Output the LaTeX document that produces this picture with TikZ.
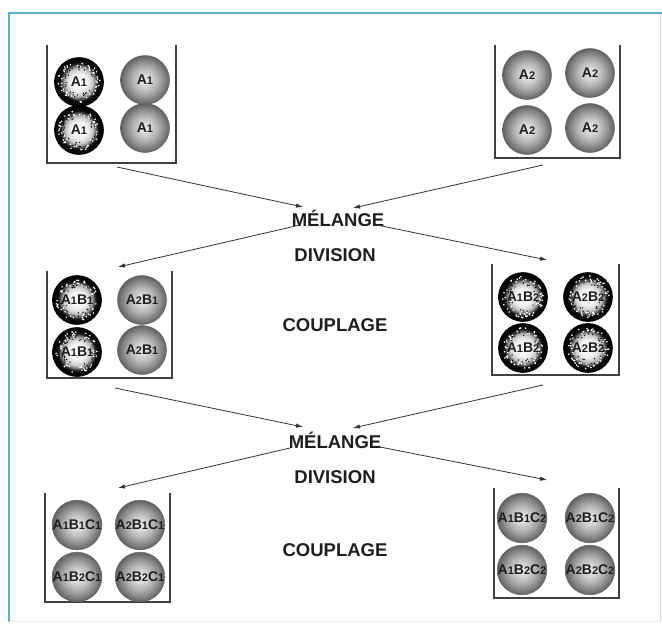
\documentclass[tikz,border=0pt]{standalone}
\usepackage{fontspec}
\setmainfont{Liberation Sans}
\usetikzlibrary{arrows.meta}

% shadings for the two kinds of beads (bead rim at 25bp)
\pgfdeclareradialshading{greybead}{\pgfpoint{0bp}{0bp}}{%
  color(0bp)=(black!8); color(6bp)=(black!16); color(13bp)=(black!30);
  color(20bp)=(black!48); color(25bp)=(black!62); color(50bp)=(black!62)}
\pgfdeclareradialshading{darkbead}{\pgfpoint{0bp}{0bp}}{%
  color(0bp)=(white); color(9bp)=(black!6); color(14bp)=(black!22);
  color(17bp)=(black!60); color(19.5bp)=(black!95); color(25bp)=(black);
  color(50bp)=(black)}

\definecolor{framecol}{RGB}{88,176,214}
\definecolor{inkcol}{RGB}{30,30,30}

% smaller index digits
\newcommand{\idx}[1]{{\fontsize{11}{11}\selectfont #1}}

\tikzset{
  bead/.style={circle, minimum size=49pt, inner sep=0pt, text=inkcol,
    font=\fontsize{14}{14}\selectfont\bfseries},
  greyball/.style={bead, shading=greybead, draw=black!60, line width=0.5pt},
  darkball/.style={bead, shading=darkbead, draw=black, line width=0.6pt,
    path picture={
      \foreach \k in {1,...,55}{
        \pgfmathsetmacro{\ang}{rnd*360}
        \pgfmathsetmacro{\rad}{15+6*rnd}
        \fill[white] (path picture bounding box.center) ++(\ang:\rad) circle (0.9pt);
      }
      \foreach \k in {1,...,30}{
        \pgfmathsetmacro{\ang}{rnd*360}
        \pgfmathsetmacro{\rad}{12+5*rnd}
        \fill[black] (path picture bounding box.center) ++(\ang:\rad) circle (0.7pt);
      }
    }},
  tray/.style={draw=black!75, line width=1.1pt, line join=miter},
  flow/.style={draw=black!80, line width=0.8pt,
    -{Latex[length=7pt, width=4.5pt]}},
  step label/.style={font=\fontsize{18.5}{18.5}\selectfont\bfseries, text=inkcol,
    inner sep=1pt}
}

\begin{document}
\begin{tikzpicture}[x=1pt, y=-1pt]
\pgfmathsetseed{4217}
\useasboundingbox (0,0) rectangle (662,627);
\fill[white] (0,0) rectangle (662,627);

% outer frame
\draw[framecol, line width=1.6pt] (9,622) -- (9,13) -- (662,13);
\draw[black!15, line width=0.6pt] (660,14) -- (660,621);
\draw[yellow!20!black!10, line width=1pt] (9,621) -- (660,621);

% trays (open at the top)
\draw[tray] (47,45) -- (47,163) -- (176,163) -- (176,45);
\draw[tray] (495,45) -- (495,158) -- (620,158) -- (620,45);
\draw[tray] (47,271) -- (47,378) -- (172,378) -- (172,271);
\draw[tray] (492,264) -- (492,375) -- (619,375) -- (619,264);
\draw[tray] (45,493) -- (45,602) -- (170,602) -- (170,493);
\draw[tray] (494,488) -- (494,598) -- (619,598) -- (619,488);

% first stage
\node[darkball] (a11) at (79,82)  {A\idx{1}};
\node[greyball] (a12) at (145,80) {A\idx{1}};
\node[darkball] (a13) at (79,130) {A\idx{1}};
\node[greyball] (a14) at (145,128) {A\idx{1}};

\node[greyball] (a21) at (527,75)  {A\idx{2}};
\node[greyball] (a22) at (590,73)  {A\idx{2}};
\node[greyball] (a23) at (527,130) {A\idx{2}};
\node[greyball] (a24) at (590,128) {A\idx{2}};

% second stage
\node[darkball] (b11) at (77,300) {A\idx{1}B\idx{1}};
\node[greyball] (b12) at (142,300) {A\idx{2}B\idx{1}};
\node[darkball] (b13) at (77,352) {A\idx{1}B\idx{1}};
\node[greyball] (b14) at (142,350) {A\idx{2}B\idx{1}};

\node[darkball] (b21) at (523,297) {A\idx{1}B\idx{2}};
\node[darkball] (b22) at (588,297) {A\idx{2}B\idx{2}};
\node[darkball] (b23) at (523,348) {A\idx{1}B\idx{2}};
\node[darkball] (b24) at (588,348) {A\idx{2}B\idx{2}};

% third stage
\node[greyball] (c11) at (77,525) {A\idx{1}B\idx{1}C\idx{1}};
\node[greyball] (c12) at (140,525) {A\idx{2}B\idx{1}C\idx{1}};
\node[greyball] (c13) at (77,577) {A\idx{1}B\idx{2}C\idx{1}};
\node[greyball] (c14) at (140,577) {A\idx{2}B\idx{2}C\idx{1}};

\node[greyball] (c21) at (522,518) {A\idx{1}B\idx{1}C\idx{2}};
\node[greyball] (c22) at (590,518) {A\idx{2}B\idx{1}C\idx{2}};
\node[greyball] (c23) at (522,570) {A\idx{1}B\idx{2}C\idx{2}};
\node[greyball] (c24) at (590,570) {A\idx{2}B\idx{2}C\idx{2}};

% step labels
\node[step label] (mix1) at (338,218) {MÉLANGE};
\node[step label] (div1) at (335,255) {DIVISION};
\node[step label] (cpl1) at (335,325) {COUPLAGE};
\node[step label] (mix2) at (335,440) {MÉLANGE};
\node[step label] (div2) at (335,477) {DIVISION};
\node[step label] (cpl2) at (335,550) {COUPLAGE};

% arrow end points, first round
\coordinate (s1l) at (117,167);
\coordinate (s1r) at (543,165);
\coordinate (m1l) at (303,207);
\coordinate (m1r) at (353,208);
\coordinate (d1l) at (300,225);
\coordinate (d1r) at (377,225);
\coordinate (t1l) at (118,267);
\coordinate (t1r) at (547,260);

\draw[flow] (s1l) -- (m1l);
\draw[flow] (s1r) -- (m1r);
\draw[flow] (d1l) -- (t1l);
\draw[flow] (d1r) -- (t1r);

% arrow end points, second round
\coordinate (s2l) at (115,388);
\coordinate (s2r) at (543,385);
\coordinate (m2l) at (303,427);
\coordinate (m2r) at (353,428);
\coordinate (d2l) at (290,448);
\coordinate (d2r) at (380,447);
\coordinate (t2l) at (118,488);
\coordinate (t2r) at (547,480);

\draw[flow] (s2l) -- (m2l);
\draw[flow] (s2r) -- (m2r);
\draw[flow] (d2l) -- (t2l);
\draw[flow] (d2r) -- (t2r);
\end{tikzpicture}
\end{document}
